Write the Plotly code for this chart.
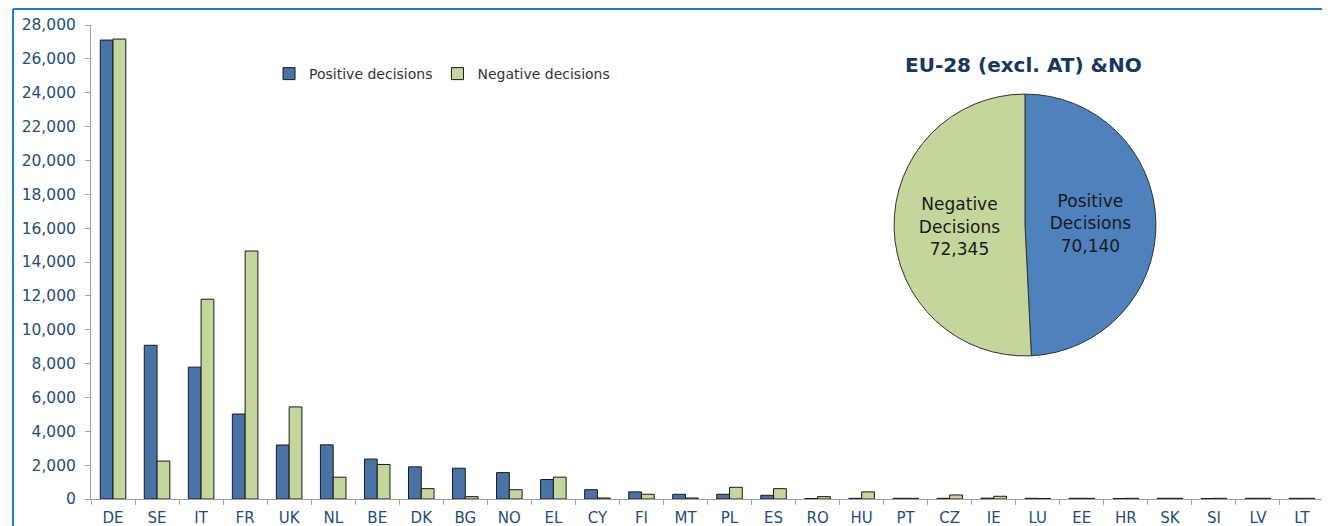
"""Positive vs negative decisions by country, with EU-28 (excl. AT) & NO pie."""

import plotly.graph_objects as go

countries = ["DE", "SE", "IT", "FR", "UK", "NL", "BE", "DK", "BG", "NO",
             "EL", "CY", "FI", "MT", "PL", "ES", "RO", "HU", "PT", "CZ",
             "IE", "LU", "EE", "HR", "SK", "SI", "LV", "LT"]
positive = [27110, 9080, 7790, 5020, 3190, 3200, 2360, 1900, 1820, 1560,
            1150, 550, 420, 280, 280, 220, 30, 40, 40, 40,
            50, 40, 40, 30, 40, 30, 40, 40]
negative = [27170, 2240, 11800, 14650, 5440, 1290, 2040, 610, 140, 550,
            1290, 60, 280, 60, 690, 610, 140, 420, 40, 240,
            160, 30, 40, 40, 40, 40, 40, 40]

pie_labels = ["Positive Decisions", "Negative Decisions"]
pie_values = [70140, 72345]
pie_title = "EU-28 (excl. AT) &NO"

BLUE = "#4A72A6"
PIE_BLUE = "#4F81BD"
GREEN = "#C3D69B"
TICK_COLOR = "#1F4E79"
FONT = "DejaVu Sans, Verdana, sans-serif"

fig = go.Figure()

fig.add_trace(go.Bar(
    x=countries, y=positive, name="Positive decisions",
    marker=dict(color=BLUE, line=dict(color="#1a1a1a", width=1)),
    hoverinfo="skip",
))
fig.add_trace(go.Bar(
    x=countries, y=negative, name="Negative decisions",
    marker=dict(color=GREEN, line=dict(color="#1a1a1a", width=1)),
    hoverinfo="skip",
))

fig.add_trace(go.Pie(
    labels=pie_labels, values=pie_values,
    text=[f"{l.split()[0]}<br>{l.split()[1]}<br>{v:,}" for l, v in zip(pie_labels, pie_values)],
    textinfo="text", textposition="inside", insidetextorientation="horizontal",
    textfont=dict(family=FONT, size=17, color="#1a1a1a"),
    marker=dict(colors=[PIE_BLUE, GREEN], line=dict(color="#333333", width=1)),
    sort=False, direction="clockwise", rotation=0,
    domain=dict(x=[0.6513, 0.8637], y=[0.3017, 0.8544]),
    showlegend=False, hoverinfo="skip",
))

fig.add_annotation(
    text=f"<b>{pie_title}</b>", x=0.7559, y=0.9156, xref="paper", yref="paper",
    xanchor="center", yanchor="middle",
    showarrow=False, font=dict(family=FONT, size=20, color="#17375E"),
)

# blue frame around the chart (left and top edges visible)
frame = dict(color="#1F7CC4", width=2)
fig.add_shape(type="line", xref="paper", yref="paper",
              x0=-0.0633, x1=-0.0633, y0=-0.2, y1=1.0338, line=frame)
fig.add_shape(type="line", xref="paper", yref="paper",
              x0=-0.0633, x1=1.1, y0=1.0338, y1=1.0338, line=frame)

# page body has an 8px default margin, so the figure is 8px smaller
fig.update_layout(
    width=1322, height=518,
    margin=dict(l=83, r=6, t=17, b=27),
    paper_bgcolor="white", plot_bgcolor="white",
    font=dict(family=FONT, color=TICK_COLOR),
    barmode="group", bargap=0.42, bargroupgap=0,
    legend=dict(orientation="h", x=0.1444, y=0.8966, xanchor="left", yanchor="middle",
                font=dict(size=14, color="#333333"), bgcolor="rgba(0,0,0,0)",
                itemwidth=30, traceorder="normal"),
    xaxis=dict(
        type="category", tickson="boundaries", ticks="outside", ticklen=5,
        tickcolor="#A0A0A0", showline=True, linecolor="#A0A0A0", linewidth=1,
        showgrid=False, tickfont=dict(size=15, color=TICK_COLOR),
        ticklabelstandoff=5, automargin=False,
    ),
    yaxis=dict(
        range=[0, 28000], dtick=2000, tickformat=",d", ticks="outside", ticklen=5,
        tickcolor="#A0A0A0", showline=True, linecolor="#A0A0A0", linewidth=1,
        showgrid=False, zeroline=False, tickfont=dict(size=15.5, color=TICK_COLOR),
        ticklabelstandoff=6, automargin=False,
    ),
)

fig.write_html("out.html")
